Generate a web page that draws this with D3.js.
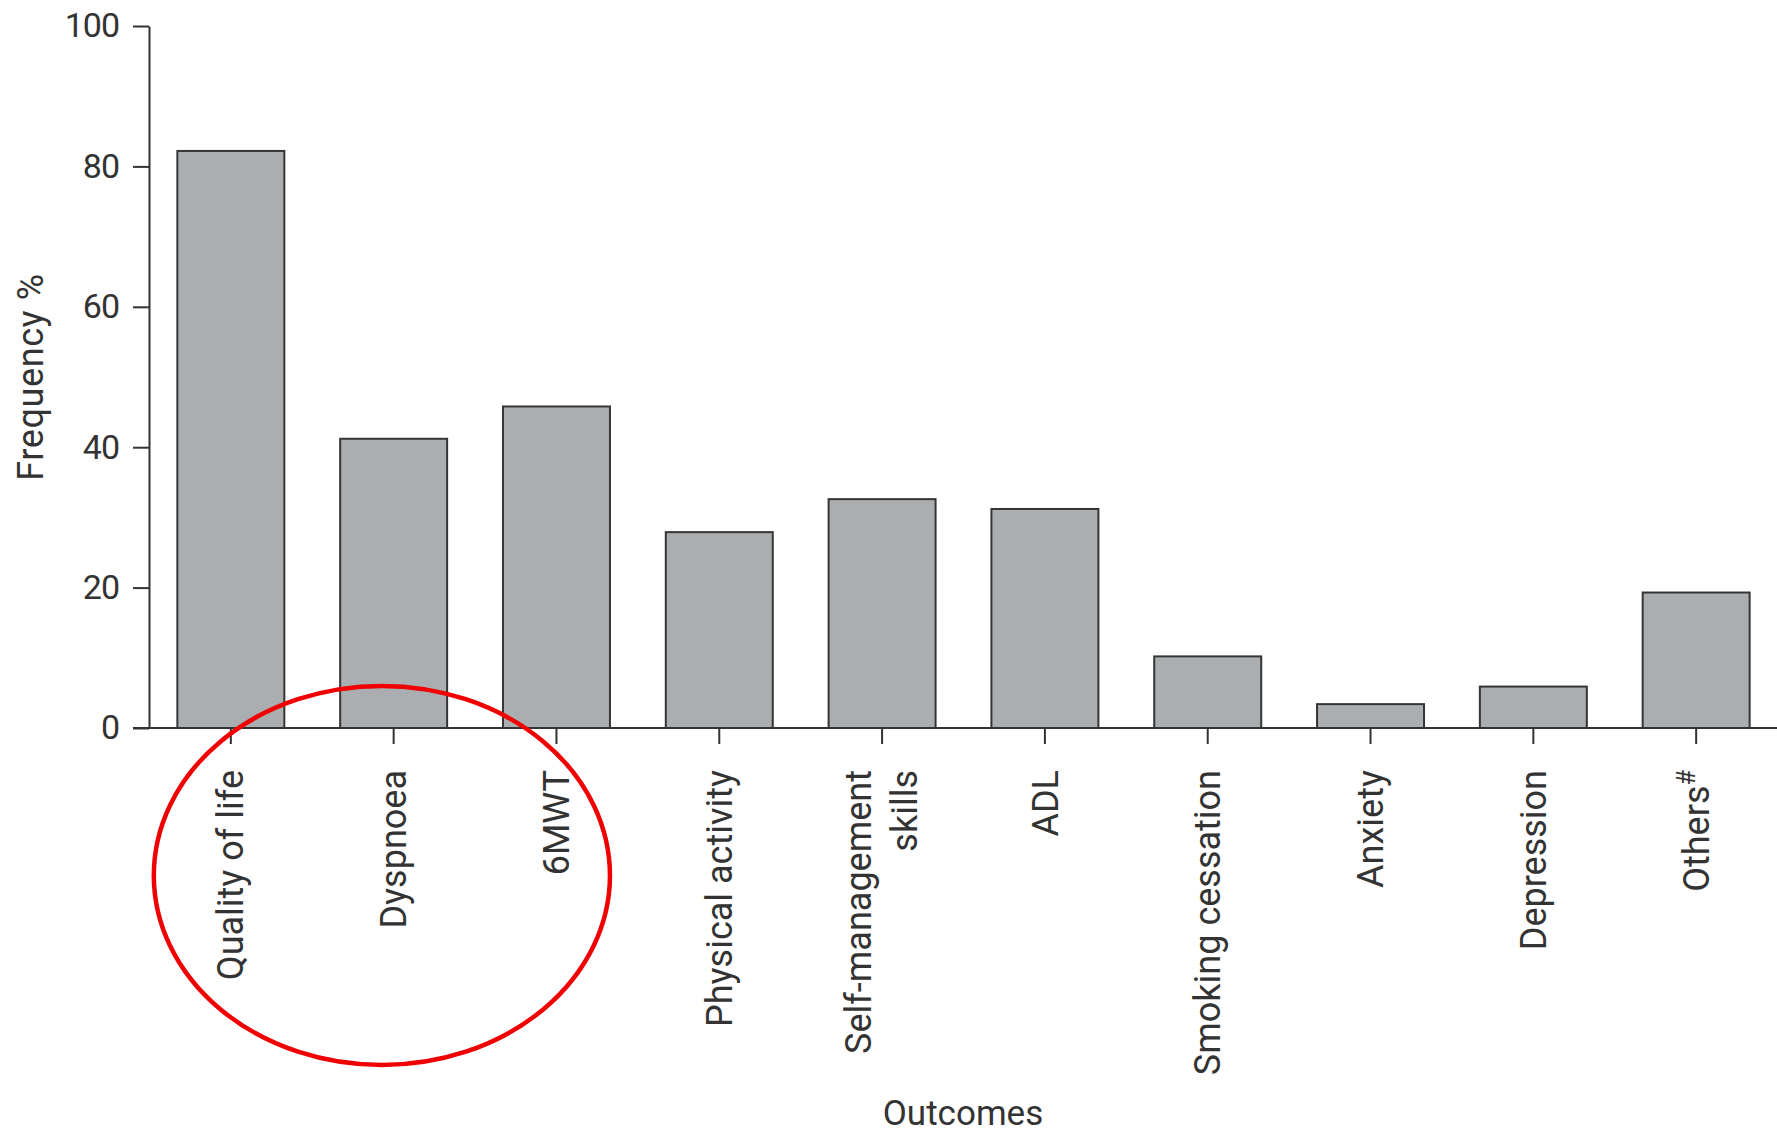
<!DOCTYPE html>
<html>
<head>
<meta charset="utf-8">
<script src="https://cdn.jsdelivr.net/npm/d3@7"></script>
<style>
  html, body { margin: 0; padding: 0; background: #fff; }
  svg { display: block; }
  text { font-family: Roboto, "Noto Sans", sans-serif; fill: #333; }
</style>
</head>
<body>
<svg id="chart" width="1777" height="1135"></svg>
<script>
// Outcome categories and how often each was reported (%)
const categories = [
  "Quality of life", "Dyspnoea", "6MWT", "Physical activity",
  "Self-management skills", "ADL", "Smoking cessation",
  "Anxiety", "Depression", "Others#"
];
const frequency = [82.2, 41.2, 45.8, 27.9, 32.6, 31.2, 10.2, 3.4, 5.9, 19.3];
const yTicks = [0, 20, 40, 60, 80, 100];
// Categories grouped by the red outline
const highlighted = ["Quality of life", "Dyspnoea", "6MWT"];
const yTitle = "Frequency %";
const xTitle = "Outcomes";

const W = 1777, H = 1135;
const plotLeft = 149, plotTop = 26, plotBottom = 728;
const ink = "#333";
const labelSize = 36;

const svg = d3.select("#chart");

const x = d3.scaleBand()
  .domain(categories)
  .range([plotLeft + 1, W])
  .paddingInner(0.343)
  .paddingOuter(0.168);

const y = d3.scaleLinear().domain([0, 100]).range([plotBottom, plotTop]);

// bars
svg.append("g")
  .selectAll("rect")
  .data(categories)
  .join("rect")
  .attr("x", d => x(d))
  .attr("y", (d, i) => y(frequency[i]))
  .attr("width", x.bandwidth())
  .attr("height", (d, i) => y(0) - y(frequency[i]))
  .attr("fill", "#abaeb0")
  .attr("stroke", "#353535")
  .attr("stroke-width", 2);

// y axis
const yAxis = svg.append("g")
  .attr("transform", `translate(${plotLeft},0)`)
  .call(d3.axisLeft(y).tickValues(yTicks).tickSize(16).tickSizeOuter(0).tickPadding(14));
yAxis.selectAll("path, line").attr("stroke", ink).attr("stroke-width", 2);
yAxis.selectAll("text")
  .attr("font-size", 34)
  .attr("font-family", "Roboto")
  .attr("letter-spacing", "-1px")
  .attr("fill", ink);

// x axis
const xAxis = svg.append("g")
  .attr("transform", `translate(0,${plotBottom})`)
  .call(d3.axisBottom(x).tickSize(16).tickSizeOuter(0));
xAxis.selectAll("path, line").attr("stroke", ink).attr("stroke-width", 2);
xAxis.select(".domain").attr("d", `M${plotLeft - 16},0H${W}`);

// rotated category labels (multi-line / superscript where needed)
xAxis.selectAll(".tick text").each(function(d) {
  const t = d3.select(this);
  t.text(null)
    .attr("font-size", labelSize)
    .attr("font-family", "Roboto")
    .attr("fill", ink)
    .attr("text-anchor", "end")
    .attr("transform", "rotate(-90)")
    .attr("x", -42)
    .attr("y", 0)
    .attr("dy", null);
  if (d === "Self-management skills") {
    t.append("tspan").attr("x", -42).attr("dy", "-0.3em").text("Self-management");
    t.append("tspan").attr("x", -42).attr("dy", "1.28em").text("skills");
  } else if (d.endsWith("#")) {
    t.attr("dy", "0.35em");
    t.append("tspan").text(d.slice(0, -1));
    t.append("tspan").attr("font-size", "0.7em").attr("dy", "-0.55em").text("#");
  } else {
    t.attr("dy", "0.35em").text(d);
  }
});

// axis titles
svg.append("text")
  .attr("transform", `translate(43,${(plotTop + plotBottom) / 2}) rotate(-90)`)
  .attr("text-anchor", "middle")
  .attr("font-size", 36)
  .attr("letter-spacing", "0.6px")
  .text(yTitle);

svg.append("text")
  .attr("x", (plotLeft + W) / 2)
  .attr("y", 1125)
  .attr("text-anchor", "middle")
  .attr("font-size", 35)
  .text(xTitle);

// red outline around the highlighted outcomes
const hx0 = x(highlighted[0]) - 0.22 * x.bandwidth();
const hx1 = x(highlighted[highlighted.length - 1]) + x.bandwidth();
const hy0 = y(6.0);
const hy1 = 1065;
svg.append("ellipse")
  .attr("cx", (hx0 + hx1) / 2)
  .attr("cy", (hy0 + hy1) / 2)
  .attr("rx", (hx1 - hx0) / 2)
  .attr("ry", (hy1 - hy0) / 2)
  .attr("fill", "none")
  .attr("stroke", "#f00000")
  .attr("stroke-width", 4.5);
</script>
</body>
</html>
